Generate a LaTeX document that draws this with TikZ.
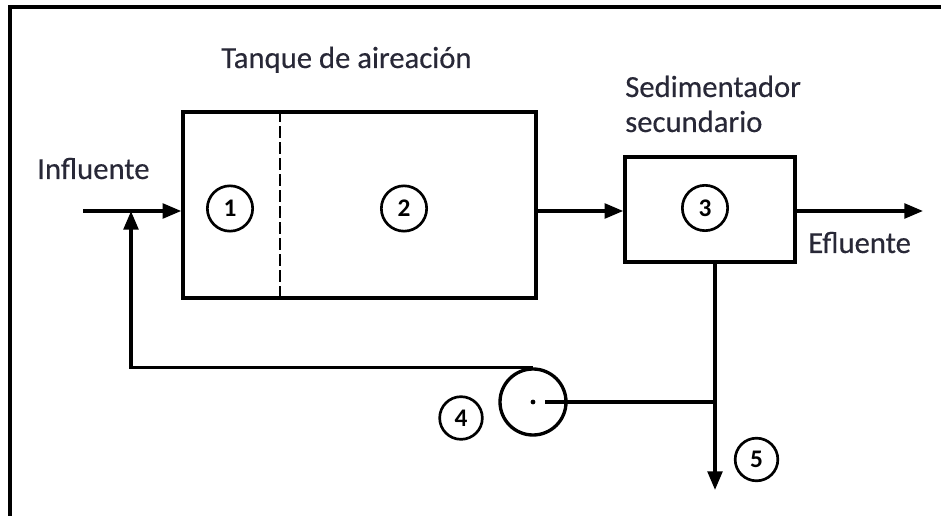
\documentclass[tikz,border=0pt]{standalone}
\usepackage{fontspec}
\setmainfont{Carlito}
\newfontfamily\lblfont{Carlito}[FakeBold=0.35]
\usetikzlibrary{arrows.meta}
\definecolor{txt}{RGB}{40,40,55}
\begin{document}
\begin{tikzpicture}[x=0.75pt,y=-0.75pt,
  flow/.style={line width=2.6pt},
  arr/.style={flow,-{Triangle[length=14pt,width=11pt]}},
  lbl/.style={text=txt,font=\lblfont\fontsize{23}{27}\selectfont,inner sep=0pt,anchor=base west},
  num/.style={circle,draw,line width=2pt,minimum size=34pt,inner sep=0pt,font=\fontsize{19}{19}\selectfont\bfseries},
  box/.style={draw,line width=2.6pt,inner sep=0pt}]
\useasboundingbox (0,0) rectangle (941,516);
\draw[line width=2.4pt] (10,516) -- (10,7) -- (941,7);
% boxes
\node[box,minimum width=264.75pt,minimum height=139.5pt] (tank) at (359.5,205) {};
\node[box,minimum width=127.5pt,minimum height=78.75pt] (sed) at (710,209.5) {};
\coordinate (dv) at (280,0);
\draw[line width=2pt,dash pattern=on 9pt off 3pt] (tank.north -| dv) -- (tank.south -| dv);
% numbers
\node[num] (n1) at (230,208.5) {1};
\node[num] (n2) at (404,208.5) {2};
\node[num] (n3) at (705,208) {3};
\node[num,minimum size=32pt] (n4) at (461,418) {4};
\node[num,minimum size=32pt] (n5) at (756.5,459.5) {5};
% flows
\coordinate (in) at (83,211);
\coordinate (j) at (131,211);
\coordinate (out) at (923,211);
\coordinate (dn) at (715,490);
\draw[flow] (in) -- (j);
\draw[arr] (j) -- (tank.west |- in);
\draw[arr] (tank.east |- in) -- (sed.west |- in);
\draw[arr] (sed.east |- in) -- (out);
\draw[arr] (sed.south -| dn) -- (dn);
% pump
\node[circle,draw,line width=2.5pt,minimum size=49.5pt,inner sep=0pt] (pump) at (533,402) {};
\fill (pump.center) circle (1.8pt);
\draw[flow] ([xshift=9pt]pump.center) -- (dn |- pump.center);
\draw[arr] (pump.north) -- (j |- pump.north) -- (j);
% labels
\node[lbl] (t1) at (221,68) {Tanque de aireación};
\node[lbl] (t2) at (625,97) {Sedimentador};
\node[lbl] (t3) at (625,132) {secundario};
\node[lbl] (t4) at (37,179) {Influente};
\node[lbl] (t5) at (808,253) {Efluente};
\end{tikzpicture}
\end{document}
